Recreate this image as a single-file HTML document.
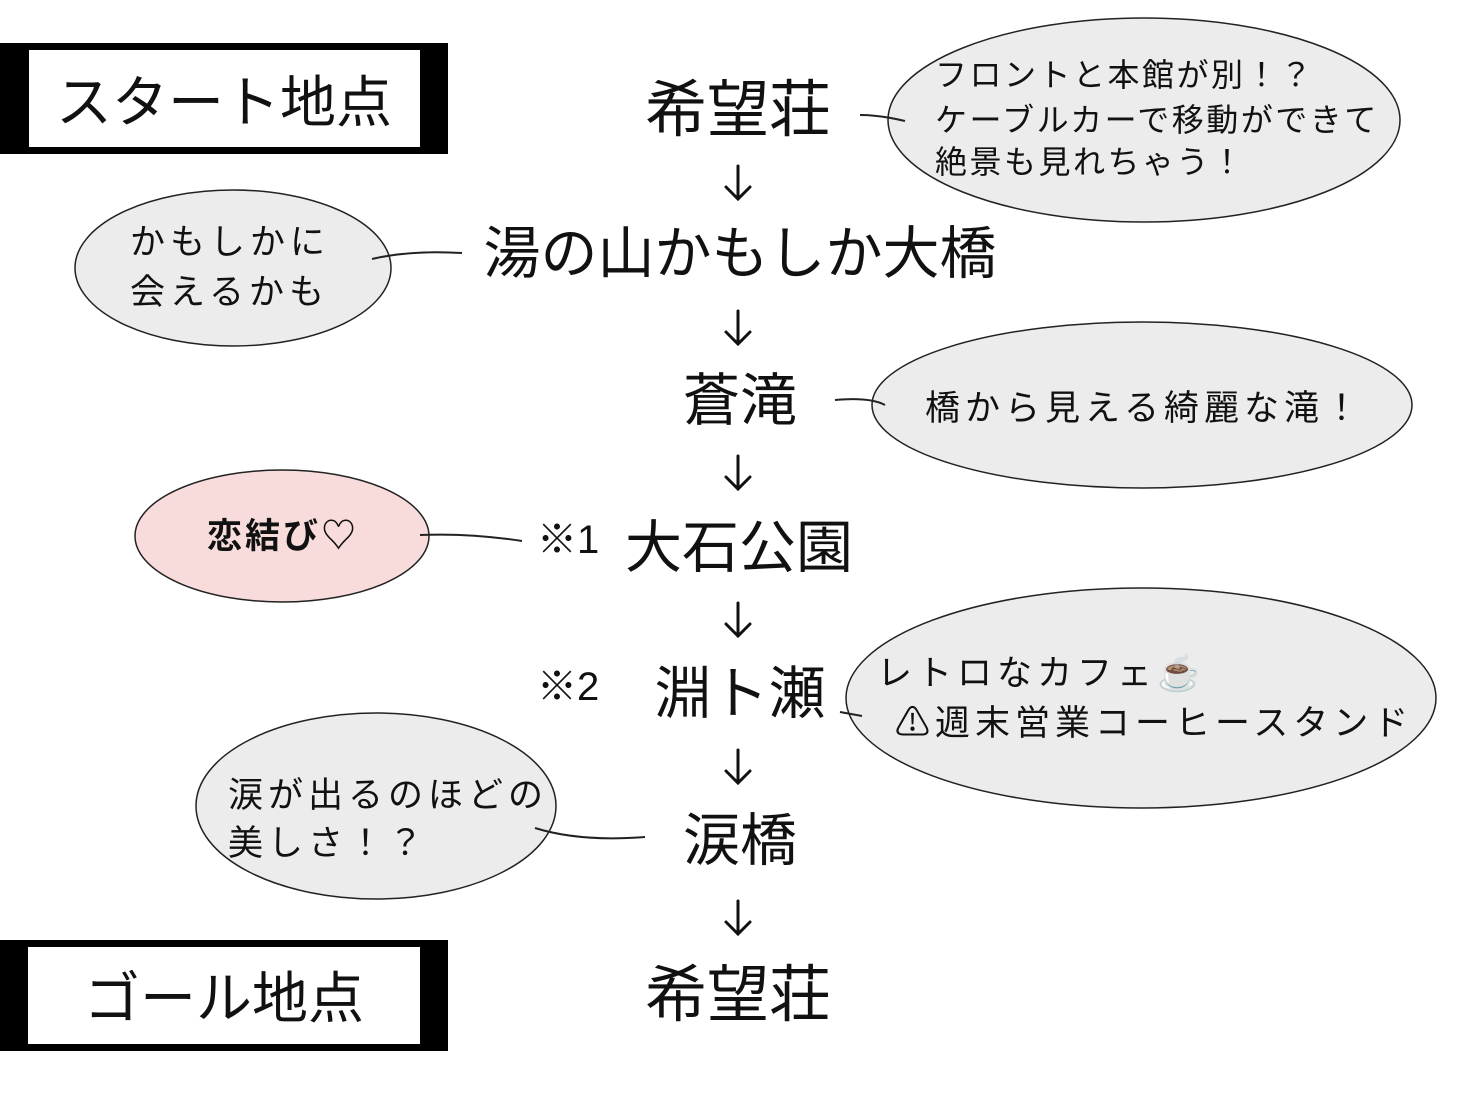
<!DOCTYPE html><html><head><meta charset="utf-8"><style>body{margin:0;background:#fff}svg{display:block}text{font-family:"Liberation Sans","Noto Sans CJK JP",sans-serif;fill:#111}</style></head><body>
<svg width="1478" height="1108" viewBox="0 0 1478 1108">
<rect x="0" y="43" width="448" height="111" fill="#000"/><rect x="29" y="50" width="391" height="97" fill="#fff"/>
<text x="224" y="122" font-size="56" text-anchor="middle">スタート地点</text>
<rect x="0" y="940" width="448" height="111" fill="#000"/><rect x="28" y="947" width="392" height="97" fill="#fff"/>
<text x="224" y="1018" font-size="56" text-anchor="middle">ゴール地点</text>
<g text-anchor="middle" font-size="57">
<text x="738" y="131" font-size="62">希望荘</text>
<text x="740" y="273">湯の山かもしか大橋</text>
<text x="740" y="420">蒼滝</text>
<text x="739" y="567">大石公園</text>
<text x="740" y="713">淵ト瀬</text>
<text x="740" y="860">涙橋</text>
<text x="738" y="1016" font-size="62">希望荘</text>
</g>
<g font-size="40"><text x="537" y="553">※1</text><text x="537" y="700">※2</text></g>
<g stroke="#111" stroke-width="3" fill="none" stroke-linecap="round">
<path d="M738 166V199M726 187L738 199L750 187"/>
<path d="M738 311V344M726 332L738 344L750 332"/>
<path d="M738 456V489M726 477L738 489L750 477"/>
<path d="M738 603V636M726 624L738 636L750 624"/>
<path d="M738 750V783M726 771L738 783L750 771"/>
<path d="M738 901V934M726 922L738 934L750 922"/>
</g>
<g stroke="#222" stroke-width="1.5">
<ellipse cx="1144" cy="120" rx="256" ry="102" fill="#ececec"/>
<ellipse cx="233" cy="268" rx="158" ry="78" fill="#ececec"/>
<ellipse cx="1142" cy="405" rx="270" ry="83" fill="#ececec"/>
<ellipse cx="282" cy="536" rx="147" ry="66" fill="#f8dcdc"/>
<ellipse cx="1141" cy="698" rx="295" ry="110" fill="#ececec"/>
<ellipse cx="376" cy="806" rx="180" ry="93" fill="#ececec"/>
<g fill="none" stroke-width="2">
<path d="M860 115 Q880 115 905 121"/><path d="M372 259 Q410 250 462 253"/><path d="M835 400 Q870 397 885 405"/><path d="M420 535 Q470 533 522 541"/><path d="M840 712 L862 716"/><path d="M535 828 Q580 842 645 837"/></g></g>
<g font-size="32" letter-spacing="2.5">
<text x="935" y="86">フロントと本館が別！？</text>
<text x="935" y="131">ケーブルカーで移動ができて</text>
<text x="935" y="173">絶景も見れちゃう！</text>
</g>
<g font-size="35" letter-spacing="5">
<text x="130" y="254">かもしかに</text>
<text x="130" y="304">会えるかも</text>
<text x="925" y="420">橋から見える綺麗な滝！</text>
<text x="877" y="685">レトロなカフェ☕</text>
<text x="895" y="735">⚠週末営業コーヒースタンド</text>
<text x="228" y="807">涙が出るのほどの</text>
<text x="228" y="855">美しさ！？</text>
</g>
<text x="283" y="548" font-size="35" font-weight="bold" letter-spacing="3" text-anchor="middle">恋結び♡</text>
</svg></body></html>
